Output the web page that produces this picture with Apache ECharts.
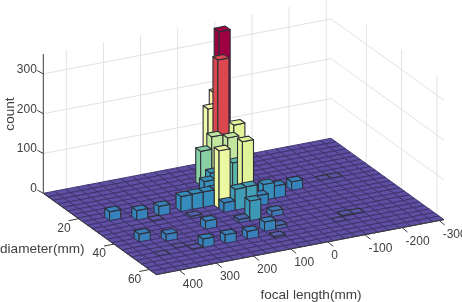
<!DOCTYPE html>
<html>
<head>
<meta charset="utf-8">
<style>html,body{margin:0;padding:0;background:#fff}#c{width:462px;height:302px}</style>
<script src="https://cdn.jsdelivr.net/npm/echarts@6/dist/echarts.min.js"></script>
</head>
<body>
<div id="c"></div>
<script>
// ---- data ----
const focalTicks = [400, 300, 200, 100, 0, -100, -200, -300];
const diameterTicks = [20, 40, 60];
const countTicks = [0, 100, 200, 300];
const focalRange = [-313, 462];
const diameterRange = [0, 64];
const countMax = 350;
const focalBins = 26;
const diameterBins = 23;
// non-empty bins: focal bin (0 = smallest focal length), diameter bin, count
const barFocalBin =    [23,21,19,23,21,20,23,21,20,19,17,17,16,15,14,17,14, 14, 11, 12, 11, 11, 10, 11, 10, 10,11,13,14,13,13,12,13,13,10, 9, 7,11,11,14,12,13,17,15, 6, 5, 7, 4, 3];
const barDiameterBin = [ 8, 9, 9,14,15,10,18,17,18,18,14, 9, 9, 9, 9,11,11, 10,  8,  4,  5,  3,  1,  1,  0,  4, 6, 4, 7, 6,11,11,14,17,10,10, 9,11,14,14,17,19,18,18,17,17,18, 8, 8];
const barCount =       [23,24,24,20,18, 2, 1, 1, 2,22,21,38,39,39,40, 6,24,146,135,117,118,296,344,155,181,136,64,86,42,49,53,54,50,24,40,31,22,26,14, 9, 9, 5,22,20, 3, 2, 1, 1, 1];
const colorStops = ['#5e4fa2','#3a7fbb','#3288bd','#3e9ab6','#66c2a5','#88cfa4','#abdda4','#c8e99e','#e6f598','#f2faab','#ffffbf','#feefa5','#fee08b','#fec776','#fdae61','#f98e52','#f46d43','#dc4a4e','#d53e4f','#b92049','#9e0142'];
const colorMax = 344;

// ---- oblique view of the 3-D box, expressed on a hidden page-plane cartesian ----
const view = {B:[331,138.3], L:[43.3,193.3], R:[444,219.6], k:0.398};
function project(focal, diameter, count) {
  const u = (focal - focalRange[0]) / (focalRange[1] - focalRange[0]);
  const v = (diameter - diameterRange[0]) / (diameterRange[1] - diameterRange[0]);
  return [
    view.B[0] + u*(view.L[0]-view.B[0]) + v*(view.R[0]-view.B[0]),
    view.B[1] + u*(view.L[1]-view.B[1]) + v*(view.R[1]-view.B[1]) - count*view.k
  ];
}
const focalOfBin = i => focalRange[0] + (focalRange[1]-focalRange[0])*i/focalBins;
const diameterOfBin = j => diameterRange[0] + (diameterRange[1]-diameterRange[0])*j/diameterBins;

// all cells, far to near
const heights = {};
barFocalBin.forEach((b, n) => { heights[b + '_' + barDiameterBin[n]] = barCount[n]; });
const cells = [];
for (let i = 0; i < focalBins; i++) for (let j = 0; j < diameterBins; j++) cells.push([i, j, heights[i + '_' + j] || 0]);

const FONT = '"Liberation Sans", Arial, sans-serif';
const TEXT = '#404040';

function renderCell(params, api) {
  const i = api.value(0), j = api.value(1), c = api.value(2);
  const color = api.visual('color');
  const p = (a, b, h) => api.coord(project(focalOfBin(a), diameterOfBin(b), h));
  const children = [];
  if (c > 0) {
    const stroke = {stroke:'#2f2f38', lineWidth:1.1, fill:color, lineJoin:'round'};
    children.push({type:'polygon', shape:{points:[p(i+1,j,c),p(i+1,j+1,c),p(i+1,j+1,0),p(i+1,j,0)]}, style:stroke});
    children.push({type:'polygon', shape:{points:[p(i+1,j+1,c),p(i,j+1,c),p(i,j+1,0),p(i+1,j+1,0)]}, style:stroke});
    children.push({type:'polygon', shape:{points:[p(i,j,c),p(i+1,j,c),p(i+1,j+1,c),p(i,j+1,c)]}, style:stroke});
  } else {
    children.push({type:'polygon', shape:{points:[p(i,j,0),p(i+1,j,0),p(i+1,j+1,0),p(i,j+1,0)]},
      style:{fill:color, stroke:'#3b3068', lineWidth:0.9}});
  }
  return {type:'group', children};
}

function line(api, a, b, stroke, w) {
  const s = api.coord(a), e = api.coord(b);
  return {type:'line', shape:{x1:s[0],y1:s[1],x2:e[0],y2:e[1]}, style:{stroke, lineWidth:w}};
}
function label(api, pos, text, size, align, extra) {
  const c = api.coord(pos);
  return Object.assign({type:'text', x:c[0], y:c[1],
    style:{text:String(text), x:0, y:0, font:size+'px '+FONT, fill:TEXT, textAlign:align, textVerticalAlign:'middle'}}, extra||{});
}

function renderWalls(params, api) {
  const ch = [], wall = '#e2e2e2';
  const [fMin, fMax] = focalRange, [dMin, dMax] = diameterRange;
  focalTicks.forEach(f => ch.push(line(api, project(f,dMin,0), project(f,dMin,countMax), wall, 1)));
  diameterTicks.forEach(d => ch.push(line(api, project(fMin,d,0), project(fMin,d,countMax), wall, 1)));
  countTicks.slice(1).forEach(c => {
    ch.push(line(api, project(fMax,dMin,c), project(fMin,dMin,c), wall, 1));
    ch.push(line(api, project(fMin,dMin,c), project(fMin,dMax,c), wall, 1));
  });
  return {type:'group', children:ch};
}

function renderAxes(params, api) {
  const ch = [], ax = '#3a3a3a';
  const [fMin, fMax] = focalRange, [dMin, dMax] = diameterRange;
  ch.push(line(api, project(fMax,dMin,0), project(fMax,dMin,countMax), ax, 1));
  ch.push(line(api, project(fMax,dMin,0), project(fMax,dMax,0), ax, 1));
  ch.push(line(api, project(fMax,dMax,0), project(fMin,dMax,0), ax, 1));
  const add = (p, dx, dy) => [p[0]+dx, p[1]+dy];
  focalTicks.forEach(f => {
    const p = project(f, dMax, 0);
    ch.push(line(api, p, add(p,5.5,4.5), ax, 1));
    ch.push(label(api, add(p,3.5,14), f, 12, 'left'));
  });
  diameterTicks.forEach(d => {
    const p = project(fMax, d, 0);
    ch.push(line(api, p, add(p,-10,2), ax, 1));
    ch.push(label(api, add(p,-8,10), d, 12, 'right'));
  });
  countTicks.forEach(c => {
    const p = project(fMax, dMin, c);
    ch.push(line(api, p, add(p,-6,-3.3), ax, 1));
    ch.push(label(api, add(p,-6.5,-4.5), c, 12, 'right'));
  });
  ch.push(label(api, [311,295], 'focal length(mm)', 13.6, 'center'));
  ch.push(label(api, [0,249], 'diameter(mm)', 13.6, 'left'));
  ch.push(label(api, [10,114], 'count', 13.6, 'center', {rotation:Math.PI/2}));
  return {type:'group', children:ch};
}

const chart = echarts.init(document.getElementById('c'), null, {renderer:'canvas', width:462, height:302});
chart.setOption({
  animation:false,
  backgroundColor:'#ffffff',
  grid:{left:0, right:0, top:0, bottom:0},
  xAxis:{type:'value', min:0, max:462, show:false},
  yAxis:{type:'value', min:0, max:302, inverse:true, show:false},
  visualMap:{show:false, type:'continuous', seriesIndex:1, dimension:2, min:0, max:colorMax, inRange:{color:colorStops}},
  series:[
    {type:'custom', silent:true, clip:false, z:1, data:[[0,0]], renderItem:renderWalls},
    {type:'custom', silent:true, clip:false, z:2, data:cells, encode:{x:0,y:1}, renderItem:renderCell},
    {type:'custom', silent:true, clip:false, z:3, data:[[0,0]], renderItem:renderAxes}
  ]
});
</script>
</body>
</html>
